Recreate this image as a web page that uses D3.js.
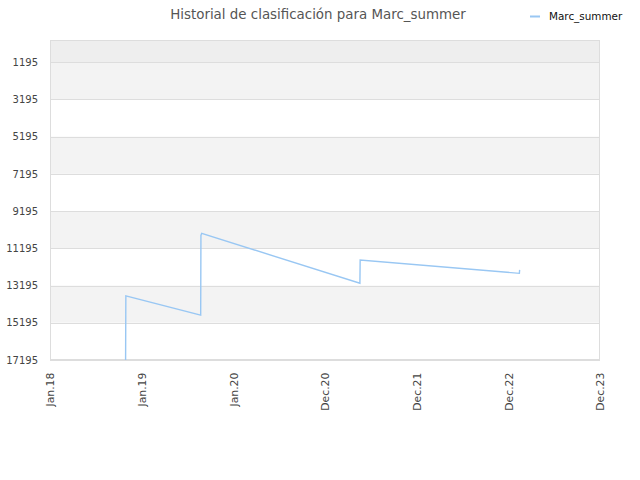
<!DOCTYPE html>
<html><head><meta charset="utf-8">
<script src="https://cdn.jsdelivr.net/npm/d3@7"></script>
<style>body{margin:0;background:#fff;}svg{display:block;font-family:"DejaVu Sans",sans-serif;}</style>
</head><body><svg id="c" width="640" height="480"></svg>
<script>
const title = "Historial de clasificación para Marc_summer";
const seriesName = "Marc_summer";
const dates = ["2018-10-29","2018-10-30","2019-08-24","2019-08-25","2019-08-28","2021-05-19","2021-05-20","2023-02-13","2023-02-14"];
const ranks = [17195,13750,14780,10500,10390,13070,11820,12540,12350];
const yTicks = [1195,3195,5195,7195,9195,11195,13195,15195,17195];
const xTickLabels = ["Jan.18","Jan.19","Jan.20","Dec.20","Dec.21","Dec.22","Dec.23"];

const svg = d3.select("#c");
const m = {l:50, r:600, t:40, b:360};
const parse = d3.utcParse("%Y-%m-%d");
const start = parse("2018-01-01");
const xTickDates = xTickLabels.map((_, i) => new Date(start.getTime() + i*365*864e5));
const x = d3.scaleUtc().domain([start, xTickDates[xTickDates.length-1]]).range([m.l, m.r]);
const y = d3.scaleLinear().domain([1, 17195]).range([m.t, m.b]);

// bands
const bandEdges = [1].concat(yTicks);
for (let i = 0; i < bandEdges.length-1; i++) {
  const fill = i === 0 ? "#eeeeee" : (i % 2 === 1 ? "#f3f3f3" : "#ffffff");
  svg.append("rect").attr("x", m.l).attr("width", m.r-m.l)
    .attr("y", y(bandEdges[i])).attr("height", y(bandEdges[i+1]) - y(bandEdges[i]))
    .attr("fill", fill);
}
// grid lines
svg.append("g").selectAll("line").data(yTicks).join("line")
  .attr("x1", m.l).attr("x2", m.r)
  .attr("y1", d => Math.round(y(d))+0.5).attr("y2", d => Math.round(y(d))+0.5)
  .attr("stroke", "#dddddd").attr("stroke-width", 1);
// border
svg.append("rect").attr("x", m.l+0.5).attr("y", m.t+0.5).attr("width", m.r-m.l-1).attr("height", m.b-m.t-1)
  .attr("fill", "none").attr("stroke", "#dddddd");

// y axis
const yAxis = d3.axisLeft(y).tickValues(yTicks).tickSize(0).tickPadding(12).tickFormat(d3.format("d"));
const gy = svg.append("g").attr("transform", `translate(${m.l},0)`).call(yAxis);
gy.select(".domain").remove();
gy.selectAll("text").attr("fill", "#444").attr("font-size", 10).attr("font-family", "DejaVu Sans, sans-serif");

// x axis
const xAxis = d3.axisBottom(x).tickValues(xTickDates).tickSize(0).tickFormat((d, i) => xTickLabels[i]);
const gx = svg.append("g").attr("transform", `translate(0,${m.b})`).call(xAxis);
gx.select(".domain").remove();
gx.selectAll("text").attr("fill", "#444").attr("font-size", 10.8).attr("font-family", "DejaVu Sans, sans-serif")
  .attr("text-anchor", "end").attr("transform", "rotate(-90)")
  .attr("x", -12.7).attr("y", 0).attr("dy", "0.35em");

// line
const pts = dates.map((d, i) => ({date: parse(d), v: ranks[i]}));
const line = d3.line().x(d => x(d.date)).y(d => y(d.v));
svg.append("path").datum(pts).attr("d", line)
  .attr("fill", "none").attr("stroke", "#99c7f3").attr("stroke-width", 1.4);

// title
svg.append("text").attr("x", 318).attr("y", 18.5).attr("text-anchor", "middle")
  .attr("font-size", 13.4).attr("fill", "#555").text(title);
// legend
svg.append("line").attr("x1", 530).attr("x2", 540).attr("y1", 16.5).attr("y2", 16.5)
  .attr("stroke", "#99c7f3").attr("stroke-width", 2);
svg.append("text").attr("x", 549).attr("y", 19.5).attr("font-size", 10.4).attr("fill", "#111")
  .text(seriesName);
</script></body></html>
